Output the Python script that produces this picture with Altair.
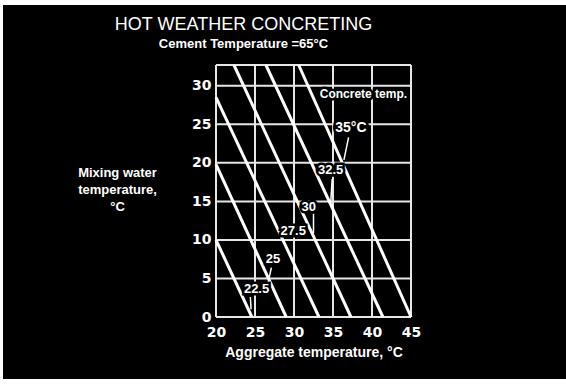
import altair as alt
import pandas as pd

# Concrete temperature lines, each given by its two ends (aggregate °C, mixing water °C)
concrete_temp = ["22.5", "25", "27.5", "30", "32.5", "35"]
agg_start = [20.0, 20.0, 20.0, 22.3, 26.4, 30.6]
water_start = [10.0, 19.8, 28.5, 32.7, 32.7, 32.7]
agg_end = [24.6, 29.0, 33.2, 37.3, 41.4, 45.0]
water_end = [0.0, 0.0, 0.0, 0.0, 0.0, 0.0]

# Axis ticks and the top edge of the plotting grid
x_ticks = [20, 25, 30, 35, 40, 45]
y_ticks = [0, 5, 10, 15, 20, 25, 30]
Y_TOP = 32.7

# Line labels and their anchor points
label_text = ["22.5", "25", "27.5", "30", "32.5", "35°C", "Concrete temp."]
label_x = [25.2, 27.3, 29.9, 31.9, 34.7, 37.3, 38.9]
label_y = [3.6, 7.5, 11.2, 14.3, 19.1, 24.5, 29.0]
label_size = [13, 13, 13, 13, 13, 14, 12]

# Leader strokes from labels to their lines
lead_x = [24.4, 27.1, 32.5, 34.9, 37.0]
lead_y = [2.6, 6.4, 13.4, 17.9, 23.3]
lead_x2 = [24.5, 26.7, 32.5, 34.7, 36.4]
lead_y2 = [1.0, 4.6, 10.9, 14.8, 20.4]

FONT = "Liberation Sans"
W, H = 195, 252

lines = pd.DataFrame({"t": concrete_temp, "x": agg_start, "y": water_start,
                      "x2": agg_end, "y2": water_end})
labels = pd.DataFrame({"t": label_text, "x": label_x, "y": label_y, "s": label_size})
leaders = pd.DataFrame({"x": lead_x, "y": lead_y, "x2": lead_x2, "y2": lead_y2})
vgrid = pd.DataFrame({"x": x_ticks})
hgrid = pd.DataFrame({"y": y_ticks + [Y_TOP]})

xscale = alt.Scale(domain=[20, 45], nice=False, zero=False)
yscale = alt.Scale(domain=[0, Y_TOP], nice=False, zero=False)

x_axis = alt.Axis(values=x_ticks, grid=False, ticks=False, domain=False,
                  labelOverlap=False, labelFlush=False,
                  labelColor="white", labelFont="DejaVu Sans", labelFontWeight="bold",
                  labelFontSize=14, labelPadding=8, zindex=1,
                  title="Aggregate temperature, °C", titleColor="white",
                  titleFont=FONT, titleFontSize=14, titleFontWeight="bold",
                  titlePadding=6)
y_axis = alt.Axis(values=y_ticks, grid=False, ticks=False, domain=False,
                  labelOverlap=False, labelFlush=False,
                  labelColor="white", labelFont="DejaVu Sans", labelFontWeight="bold",
                  labelFontSize=14, labelPadding=5, zindex=1,
                  title=["Mixing water", "temperature,", "°C"], titleColor="white",
                  titleFont=FONT, titleFontSize=13, titleFontWeight="bold",
                  titleAngle=0, titleAlign="center", titleBaseline="top",
                  titleX=-99, titleY=101, titleLineHeight=17)

# Dark slide panel behind everything
panel = alt.Chart(pd.DataFrame({"k": [0]})).mark_rect(color="black").encode(
    x=alt.value(-213), x2=alt.value(350), y=alt.value(-60), y2=alt.value(314)
)

vrules = alt.Chart(vgrid).mark_rule(color="#e6e6e6", strokeWidth=2).encode(
    x=alt.X("x:Q", scale=xscale, axis=x_axis),
    y=alt.datum(0, scale=yscale, axis=y_axis),
    y2=alt.datum(Y_TOP),
)
hrules = alt.Chart(hgrid).mark_rule(color="#e6e6e6", strokeWidth=2).encode(
    y=alt.Y("y:Q", scale=yscale, axis=y_axis),
    x=alt.datum(20, scale=xscale, axis=x_axis),
    x2=alt.datum(45),
)

temp_lines = alt.Chart(lines).mark_rule(color="white", strokeWidth=3).encode(
    x=alt.X("x:Q", axis=x_axis), y=alt.Y("y:Q", axis=y_axis), x2="x2:Q", y2="y2:Q"
)

halo = alt.Chart(labels).mark_text(
    font=FONT, fontWeight="bold", color="black", stroke="black", strokeWidth=5
).encode(x=alt.X("x:Q", axis=x_axis), y=alt.Y("y:Q", axis=y_axis), text="t:N",
         size=alt.Size("s:Q", scale=None, legend=None))

label_marks = alt.Chart(labels).mark_text(
    font=FONT, fontWeight="bold", color="white"
).encode(x=alt.X("x:Q", axis=x_axis), y=alt.Y("y:Q", axis=y_axis), text="t:N",
         size=alt.Size("s:Q", scale=None, legend=None))

leader_marks = alt.Chart(leaders).mark_rule(color="white", strokeWidth=1.5).encode(
    x=alt.X("x:Q", axis=x_axis), y=alt.Y("y:Q", axis=y_axis), x2="x2:Q", y2="y2:Q"
)

chart = alt.layer(
    panel, vrules, hrules, temp_lines, halo, label_marks, leader_marks
).properties(
    width=W,
    height=H,
    title=alt.TitleParams(
        text="HOT WEATHER CONCRETING",
        subtitle="Cement Temperature =65°C",
        color="white", font=FONT, fontSize=18, fontWeight="normal",
        subtitleColor="white", subtitleFont=FONT, subtitleFontSize=13,
        subtitleFontWeight="bold", subtitlePadding=4,
        anchor="middle", frame="group", dx=-70, offset=-46,
    ),
    autosize=alt.AutoSizeParams(type="none"),
    padding={"left": 216, "top": 65, "right": 155, "bottom": 68},
    background="white",
).configure_view(
    stroke=None
).configure_axis(
    labelOverlap=False, labelFlush=False
)

chart.save("out.html", embed_options={"renderer": "svg", "actions": False})
